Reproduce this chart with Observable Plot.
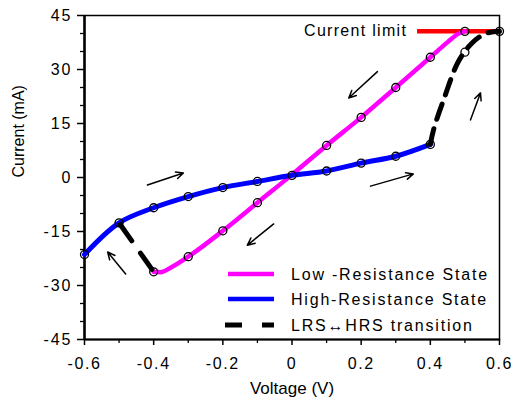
<!DOCTYPE html>
<html>
<head>
<meta charset="utf-8">
<script src="https://cdn.jsdelivr.net/npm/d3@7"></script>
<script src="https://cdn.jsdelivr.net/npm/@observablehq/plot@0.6"></script>
<style>
  html, body { margin: 0; padding: 0; background: white; }
  #chart { position: relative; width: 519px; height: 398px; }
  svg { font-family: "Liberation Sans", Arial, sans-serif; }
  svg [aria-label="y-axis tick label"] text { letter-spacing: 2px; }
  svg [aria-label="x-axis tick label"] text { letter-spacing: 1.6px; }
</style>
</head>
<body>
<div id="chart"></div>
<script>
// Low-resistance state (magenta)
const lrsV = [-0.4, -0.38, -0.35, -0.3, -0.2, -0.1, 0, 0.1, 0.2, 0.3, 0.4, 0.45, 0.48, 0.5];
const lrsI = [-26.2, -26.3, -25.0, -22, -14.8, -7, 0.8, 8.9, 16.7, 25, 33.4, 37.6, 39.9, 40.6];
// High-resistance state (blue)
const hrsV = [-0.6, -0.5, -0.4, -0.3, -0.2, -0.1, 0, 0.1, 0.2, 0.3, 0.4];
const hrsI = [-21.4, -12.6, -8.4, -5.3, -2.8, -1.1, 0.6, 1.8, 4.0, 5.9, 9.2];
// LRS<->HRS transitions (dashed)
const setV = [0.4, 0.41, 0.44, 0.48, 0.52, 0.56, 0.6];
const setI = [9.2, 13.5, 22, 32, 37.3, 40, 40.6];
const resetV = [-0.5, -0.4];
const resetI = [-12.6, -26.2];
// measured points (open circles)
const markV = [-0.4, -0.3, -0.2, -0.1, 0.1, 0.2, 0.3, 0.4, 0.5,
               -0.6, -0.5, -0.4, -0.3, -0.2, -0.1, 0, 0.1, 0.2, 0.3, 0.4,
               0.5, 0.6];
const markI = [-26.2, -22, -14.8, -7, 8.9, 16.7, 25, 33.4, 40.6,
               -21.4, -12.6, -8.4, -5.3, -2.8, -1.1, 0.6, 1.8, 4.0, 5.9, 9.2,
               34.8, 40.6];
// current limit
const currentLimit = 40.6;
const limitFrom = 0.363;
const limitLabel = "Current limit";
// direction arrows
const arrowX1 = [-0.418, 0.247, 0.227, 0.516, -0.481, -0.053];
const arrowY1 = [-2.1, 29.4, -2.4, 16.0, -26.8, -12.9];
const arrowX2 = [-0.314, 0.164, 0.351, 0.545, -0.533, -0.129];
const arrowY2 = [1.25, 22.1, 1.0, 23.5, -20.7, -18.8];
// axes
const xTicks = [-0.6, -0.4, -0.2, 0, 0.2, 0.4, 0.6];
const xMinor = [-0.5, -0.3, -0.1, 0.1, 0.3, 0.5];
const yTicks = [-45, -30, -15, 0, 15, 30, 45];
const yMinor = [-40, -35, -25, -20, -10, -5, 5, 10, 20, 25, 35, 40];
const xLabel = "Voltage (V)";
const yLabel = "Current (mA)";
const legendLabels = ["Low -Resistance State", "High-Resistance State", "LRS\u2194HRS transition"];
const legendColors = ["#ff00ff", "#0000ff", "#000000"];

const zip = (xs, ys) => xs.map((x, i) => ({x, y: ys[i]}));
const lrs = zip(lrsV, lrsI);
const hrs = zip(hrsV, hrsI);
const setT = zip(setV, setI);
const resetT = zip(resetV, resetI);
const marks = zip(markV, markI);
const arrows = arrowX1.map((x1, i) => ({x1, y1: arrowY1[i], x2: arrowX2[i], y2: arrowY2[i]}));
const fmtX = d => d === 0 ? "0" : d.toFixed(1).replace("\u2212", "-");

const plot = Plot.plot({
  width: 519,
  height: 398,
  marginLeft: 84,
  marginRight: 20,
  marginTop: 15,
  marginBottom: 59,
  x: {domain: [-0.6, 0.6]},
  y: {domain: [-45, 45]},
  style: {fontFamily: '"Liberation Sans", Arial, sans-serif', fontSize: "16px", color: "black", background: "white"},
  marks: [
    Plot.axisY({ticks: yMinor, tickSize: 4, tickFormat: () => "", label: null, strokeWidth: 1.3}),
    Plot.axisY({ticks: yTicks, tickSize: 7, tickPadding: 5, tickFormat: d => String(d), label: null, fontSize: 16, strokeWidth: 1.5}),
    Plot.axisX({ticks: xMinor, tickSize: 4, tickFormat: () => "", label: null, strokeWidth: 1.3}),
    Plot.axisX({ticks: xTicks, tickSize: 6, tickPadding: 12, tickFormat: fmtX, label: null, fontSize: 16, strokeWidth: 1.5}),
    Plot.frame({stroke: "black", strokeWidth: 1.5}),
    Plot.ruleX([-0.6], {stroke: "black", strokeWidth: 2.5}),
    Plot.ruleY([-45], {stroke: "black", strokeWidth: 2}),
    Plot.text([xLabel], {frameAnchor: "bottom", dy: 49, lineAnchor: "middle", fontSize: 17, fill: "black", style: "letter-spacing:1.5px"}),
    Plot.text([yLabel], {frameAnchor: "left", dx: -66, rotate: -90, lineAnchor: "middle", fontSize: 16, fill: "black"}),
    Plot.ruleY([currentLimit], {x1: limitFrom, x2: 0.6, stroke: "#ff0000", strokeWidth: 4.5}),
    Plot.text([limitLabel], {x: limitFrom - 0.03, y: currentLimit, textAnchor: "end", lineAnchor: "middle", fontSize: 16, fill: "black"}),
    Plot.line(lrs, {x: "x", y: "y", stroke: "#ff00ff", strokeWidth: 4.5, curve: "monotone-x"}),
    Plot.line(hrs, {x: "x", y: "y", stroke: "#0000ff", strokeWidth: 5, curve: "catmull-rom"}),
    Plot.line(setT, {x: "x", y: "y", stroke: "black", strokeWidth: 5, strokeDasharray: "16,10", curve: "catmull-rom"}),
    Plot.line(resetT, {x: "x", y: "y", stroke: "black", strokeWidth: 5, strokeDasharray: "20,15", strokeDashoffset: -2}),
    Plot.dot(marks, {x: "x", y: "y", r: 4, stroke: "black", strokeWidth: 1.3, fill: "none"}),
    Plot.arrow(arrows, {x1: "x1", y1: "y1", x2: "x2", y2: "y2", stroke: "black", strokeWidth: 1.5, headLength: 8, headAngle: 50})
  ]
});

document.getElementById("chart").appendChild(plot);

// legend inside the plot area (lower right)
const svg = d3.select(plot);
svg.selectAll('[aria-label="text"] text').filter(function() { return this.textContent === limitLabel; }).style("letter-spacing", "1.3px");
const lg = svg.append("g").attr("class", "legend").attr("text-anchor", "start");
const rowsY = [274, 299, 325];
legendLabels.forEach((lab, i) => {
  const y = rowsY[i];
  if (i < 2) {
    lg.append("line").attr("x1", 228).attr("x2", 274).attr("y1", y).attr("y2", y)
      .attr("stroke", legendColors[i]).attr("stroke-width", 4.5);
  } else {
    lg.append("line").attr("x1", 225).attr("x2", 274).attr("y1", y).attr("y2", y)
      .attr("stroke", legendColors[i]).attr("stroke-width", 5).attr("stroke-dasharray", "17,20");
  }
  lg.append("text").attr("x", 291).attr("y", y).attr("dy", "0.35em").attr("text-anchor", "start")
    .attr("font-size", 16).attr("fill", "black").style("letter-spacing", "1.8px").text(lab);
});
</script>
</body>
</html>
